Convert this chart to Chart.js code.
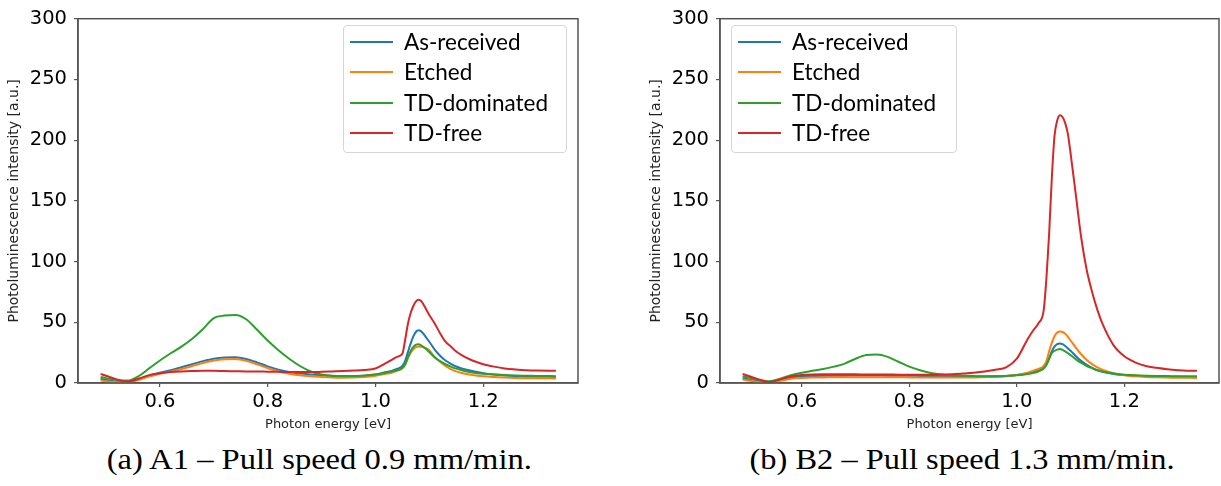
<!DOCTYPE html>
<html>
<head>
<meta charset="utf-8">
<script src="https://cdn.jsdelivr.net/npm/chart.js@4.4.1/dist/chart.umd.min.js"></script>
<style>
  body { margin: 0; background: #fff; }
  #page { position: relative; width: 1221px; height: 486px; overflow: hidden; background: #fff; }
  canvas { position: absolute; top: 0; }
  #chartA { left: 0; }
  #chartB { left: 642px; }
  .legend { position: absolute; top: 25px; height: 128px; border: 1px solid #d6d6d6; border-radius: 4px; background: rgba(255, 255, 255, 0.8); font-family: Lato, sans-serif; font-size: 22.5px; color: #000; box-sizing: border-box; }
  .legend .row { position: absolute; left: 0; height: 30px; line-height: 30px; white-space: nowrap; }
  .legend .swatch { position: absolute; left: 6px; width: 43px; height: 2px; top: 14px; }
  .legend .label { position: absolute; left: 60px; top: 0; }
  .caption { position: absolute; top: 445px; height: 29px; line-height: 29px; font-family: "Liberation Serif", serif; font-size: 29px; white-space: nowrap; color: #000; }
</style>
</head>
<body>
<div id="page">
  <canvas id="chartA" width="600" height="440"></canvas>
  <canvas id="chartB" width="579" height="440"></canvas>
</div>
<script>
// Photon energy [eV], shared by all curves
const energy = [0.49, 0.50, 0.52, 0.54, 0.56, 0.58, 0.60, 0.62, 0.64, 0.66,
  0.68, 0.70, 0.72, 0.74, 0.76, 0.78, 0.80, 0.82, 0.84, 0.86,
  0.88, 0.90, 0.92, 0.94, 0.96, 0.98, 1.00, 1.02, 1.03, 1.04,
  1.05, 1.055, 1.06, 1.065, 1.07, 1.075, 1.08, 1.085, 1.09, 1.095,
  1.10, 1.11, 1.12, 1.13, 1.14, 1.15, 1.16, 1.18, 1.20, 1.22,
  1.24, 1.26, 1.28, 1.30, 1.335];

const seriesNames = ['As-received', 'Etched', 'TD-dominated', 'TD-free'];
const seriesColors = ['#1f77b4', '#ff7f0e', '#2ca02c', '#d62728'];

// (a) A1 - pull speed 0.9 mm/min
const a1AsReceived = [3.5, 2.5, 1.2, 1.0, 3, 6, 8.5, 10.5, 13, 15.5,
  18, 20, 21, 21.2, 19.8, 17, 13.7, 11, 9, 7.8,
  7, 6.3, 5.8, 5.5, 5.5, 6, 7, 9, 10, 11.5,
  14, 18, 25, 32, 38, 42, 43.5, 42.5, 40, 37,
  34, 27.5, 22.5, 18.5, 15.8, 13.6, 12, 9.8, 8, 7,
  6.2, 5.7, 5.4, 5.2, 5];
const a1Etched = [2, 1.5, 0.6, 0.3, 2.5, 5.5, 7.5, 9.5, 11.5, 14,
  16.5, 18.5, 19.5, 19.7, 18.3, 15.5, 12.3, 9.5, 7.7, 6.3,
  5.5, 5, 4.6, 4.4, 4.5, 5, 6, 7.5, 8.5, 10,
  12, 15, 20, 24.5, 27.5, 29.5, 30, 29.8, 29.3, 28.5,
  27, 21.5, 17.5, 14, 11.5, 9.6, 8.3, 6.6, 5.5, 4.9,
  4.5, 4.2, 4, 3.9, 3.8];
const a1TdDominated = [5, 4, 2.5, 2, 5.5, 12, 18.5, 24.5, 30, 36.5,
  44.5, 53.5, 55.5, 56, 52.5, 44, 35, 27, 20, 14,
  9.5, 7, 6, 5.8, 5.8, 6.2, 7, 8.5, 9.5, 10.5,
  12.5, 15, 21, 26, 29.5, 31.5, 32, 31, 29.5, 27.5,
  25.5, 21, 18, 15.5, 13.5, 11.8, 10.5, 8.7, 7.6, 7,
  6.5, 6.2, 6, 5.8, 5.6];
const a1TdFree = [7.5, 6, 3, 1.2, 3.5, 6.5, 8, 9, 9.5, 9.8,
  10, 10, 9.8, 9.7, 9.5, 9.5, 9.3, 9.2, 9, 9,
  9, 9.2, 9.5, 9.8, 10.2, 10.8, 12, 16.5, 19, 21.5,
  24, 35, 48, 57, 63, 67, 68.5, 67.5, 64, 60,
  56, 49, 41, 34, 30, 26, 23, 18.5, 15.5, 13.5,
  12, 11.2, 10.6, 10.3, 10];

// (b) B2 - pull speed 1.3 mm/min
const b2AsReceived = [4, 3, 1.5, 0.8, 2.5, 4.5, 5.5, 5.8, 6, 6,
  6, 6.2, 6.2, 6.2, 6, 6, 6, 5.8, 5.8, 5.6,
  5.5, 5.5, 5.4, 5.4, 5.5, 5.8, 6.5, 8, 9, 10.5,
  12.5, 15, 20, 26, 30, 32, 32.5, 32, 30.5, 28.5,
  26.5, 22, 18, 15, 12.5, 10.5, 9.2, 7.5, 6.5, 6,
  5.6, 5.4, 5.2, 5.1, 5];
const b2Etched = [3, 2, 0.8, 0.3, 1.8, 3.5, 4.2, 4.5, 4.6, 4.7,
  4.8, 4.8, 4.8, 4.8, 4.7, 4.7, 4.6, 4.6, 4.5, 4.5,
  4.5, 4.5, 4.6, 4.8, 5, 5.5, 6.5, 8.5, 10, 11.5,
  14, 18, 26, 33, 38.5, 41.5, 42.5, 42, 40.5, 38,
  35, 29, 23.5, 19, 15.5, 12.8, 10.8, 8, 6.3, 5.5,
  5, 4.7, 4.5, 4.3, 4.2];
const b2TdDominated = [5.5, 4.5, 2.5, 1.4, 3.5, 6.5, 8.5, 10, 11.5, 13.5,
  16, 20, 23, 23.5, 21.5, 17.5, 13.5, 10.5, 8.3, 7,
  6.3, 6, 5.7, 5.5, 5.5, 5.8, 6.3, 7.5, 8.3, 9.5,
  12, 15, 20, 24.5, 26.5, 27.5, 28, 27.3, 26, 24.5,
  23, 19.5, 16.5, 14, 12.2, 10.5, 9.3, 7.8, 6.8, 6.3,
  6, 5.8, 5.7, 5.6, 5.5];
const b2TdFree = [7.5, 6, 3, 0.8, 3, 5.5, 6.5, 7, 7.2, 7.2,
  7.2, 7.2, 7, 7, 7, 6.8, 6.8, 6.8, 6.8, 7,
  7.2, 7.8, 8.5, 9.5, 11, 12.8, 20, 36, 43, 49,
  60, 86, 122, 168, 203, 216, 220.5, 219, 214, 205,
  189, 154, 119, 93, 75, 60, 48, 31, 22, 17,
  14, 12.5, 11.3, 10.6, 10];

// Axis ticks
const yTicks = [0, 50, 100, 150, 200, 250, 300];
const xTickStep = 0.2;

const captions = ['(a) A1 \u2013 Pull speed 0.9 mm/min.', '(b) B2 \u2013 Pull speed 1.3 mm/min.'];

const axisColor = '#555';

// Draw the full matplotlib-like box around the plot area
const framePlugin = {
  id: 'frame',
  afterDraw(chart) {
    const { ctx, chartArea: a } = chart;
    ctx.save();
    ctx.strokeStyle = axisColor;
    ctx.lineWidth = 1.5;
    ctx.strokeRect(a.left, a.top, a.right - a.left, a.bottom - a.top);
    ctx.restore();
  }
};

function makeChart(id, values, padRight) {
  const datasets = seriesNames.map((name, i) => ({
    label: name,
    data: energy.map((e, k) => ({ x: e, y: values[i][k] })),
    borderColor: seriesColors[i],
    backgroundColor: seriesColors[i],
    borderWidth: 2,
    pointRadius: 0,
    cubicInterpolationMode: 'monotone',
    order: seriesNames.length - i
  }));

  return new Chart(document.getElementById(id), {
    type: 'line',
    data: { datasets },
    options: {
      responsive: false,
      animation: false,
      devicePixelRatio: 1,
      layout: { padding: { top: 14, right: padRight, bottom: 0, left: 0 } },
      plugins: { legend: { display: false }, tooltip: { enabled: false } },
      scales: {
        x: {
          type: 'linear',
          min: 0.448,
          max: 1.376,
          afterFit: (s) => { s.height = 57; },
          grid: { drawOnChartArea: false, drawTicks: true, tickLength: 4, color: axisColor, lineWidth: 1.2 },
          border: { display: true, color: axisColor, width: 1.5 },
          ticks: {
            stepSize: xTickStep, includeBounds: false, autoSkip: false, maxRotation: 0,
            padding: 3, color: '#000',
            font: { family: 'DejaVu Sans', size: 19.5 },
            callback: (v) => v.toFixed(1)
          },
          title: {
            display: true, text: 'Photon energy [eV]', color: '#222',
            font: { family: 'DejaVu Sans', size: 13 }, padding: { top: 0, bottom: 8 }
          }
        },
        y: {
          min: yTicks[0],
          max: yTicks[yTicks.length - 1],
          afterFit: (s) => { s.width = 78; },
          afterBuildTicks: (s) => { s.ticks = yTicks.map((v) => ({ value: v })); },
          grid: { drawOnChartArea: false, drawTicks: true, tickLength: 4, color: axisColor, lineWidth: 1.2 },
          border: { display: true, color: axisColor, width: 1.5 },
          ticks: {
            padding: 7, color: '#000',
            font: { family: 'DejaVu Sans', size: 19.5 }
          },
          title: {
            display: true, text: 'Photoluminescence intensity [a.u.]', color: '#222',
            font: { family: 'DejaVu Sans', size: 14 }, padding: { top: 6, bottom: 0 }
          }
        }
      }
    },
    plugins: [framePlugin]
  });
}

makeChart('chartA', [a1AsReceived, a1Etched, a1TdDominated, a1TdFree], 22);
makeChart('chartB', [b2AsReceived, b2Etched, b2TdDominated, b2TdFree], 2);

// Legends inside the upper area of each panel
const page = document.getElementById('page');
[{ left: 343, width: 224 }, { left: 731, width: 226 }].forEach((pos) => {
  const box = document.createElement('div');
  box.className = 'legend';
  box.style.left = pos.left + 'px';
  box.style.width = pos.width + 'px';
  seriesNames.forEach((name, i) => {
    const row = document.createElement('div');
    row.className = 'row';
    row.style.top = (1 + i * 30.3) + 'px';
    const sw = document.createElement('div');
    sw.className = 'swatch';
    sw.style.background = seriesColors[i];
    const lab = document.createElement('span');
    lab.className = 'label';
    lab.textContent = name;
    row.appendChild(sw);
    row.appendChild(lab);
    box.appendChild(row);
  });
  page.appendChild(box);
});

// Sub-figure captions
[319.5, 962.5].forEach((cx, i) => {
  const cap = document.createElement('div');
  cap.className = 'caption';
  cap.textContent = captions[i];
  page.appendChild(cap);
  const w = cap.getBoundingClientRect().width;
  const sx = 425 / w;
  cap.style.left = (cx - w / 2) + 'px';
  cap.style.transform = 'scaleX(' + sx.toFixed(3) + ')';
});
</script>
</body>
</html>
